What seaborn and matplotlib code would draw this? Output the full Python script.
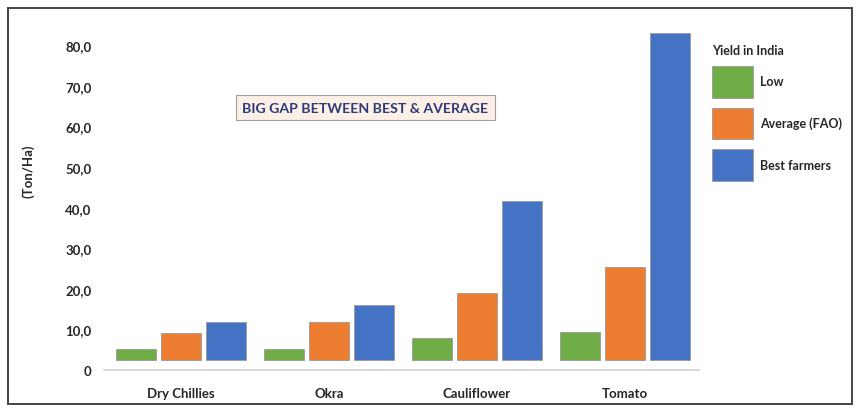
import matplotlib
matplotlib.use("Agg")
import matplotlib.pyplot as plt
import matplotlib.patches as mpatches
import seaborn as sns
import pandas as pd

# ---- data ----
categories = ["Dry Chillies", "Okra", "Cauliflower", "Tomato"]
series = ["Low", "Average (FAO)", "Best farmers"]
low = [5.2, 5.2, 7.9, 9.4]
average = [9.1, 11.8, 19.0, 25.4]
best = [11.8, 16.0, 41.6, 83.0]
y_ticks = [0, 10, 20, 30, 40, 50, 60, 70, 80]
y_tick_labels = ["0", "10,0", "20,0", "30,0", "40,0", "50,0", "60,0", "70,0", "80,0"]
title_text = "BIG GAP BETWEEN BEST & AVERAGE"
legend_title = "Yield in India"
y_label = "(Ton/Ha)"

colors = ["#70AD47", "#ED7D31", "#4472C4"]

rows = []
for i, c in enumerate(categories):
    for s, vals in zip(series, [low, average, best]):
        rows.append({"crop": c, "series": s, "value": vals[i]})
df = pd.DataFrame(rows)

sns.set_style("white")
plt.rcParams["font.family"] = ["Lato", "DejaVu Sans"]

fig = plt.figure(figsize=(8.59, 4.10), dpi=100)
ax = fig.add_axes([104 / 859, 39 / 410, (699 - 104) / 859, (371 - 30) / 410])

sns.barplot(data=df, x="crop", y="value", hue="series", hue_order=series,
            order=categories, palette=colors, width=0.92, legend=False,
            edgecolor="#9a9a9a", linewidth=0.6, saturation=1, ax=ax)

# bars float slightly above the baseline, like the reference
base = 2.5
shrink = 0.88
for p in ax.patches:
    top = p.get_y() + p.get_height()
    w = p.get_width()
    x = p.get_x()
    p.set_y(base)
    p.set_height(top - base)
    p.set_width(w * shrink)
    p.set_x(x + w * (1 - shrink) / 2)

ax.set_xlim(-0.52, 3.5)
ax.set_ylim(0, (371 - 30) / 4.06)
ax.set_yticks(y_ticks)
ax.set_yticklabels(y_tick_labels, fontsize=9.5, fontweight="bold", color="#262626")
ax.set_xticks(range(len(categories)))
ax.set_xticklabels(categories, fontsize=9.5, fontweight="bold", color="#262626")
ax.tick_params(axis="both", length=0)
ax.tick_params(axis="y", pad=9)
ax.tick_params(axis="x", pad=12)
ax.set_xlabel("")
ax.set_ylabel(y_label, fontsize=9.5, fontweight="bold", color="#262626")
ax.yaxis.set_label_coords(-0.117, 0.585)

for s in ["top", "right", "left"]:
    ax.spines[s].set_visible(False)
ax.spines["bottom"].set_color("#d4d4d4")
ax.spines["bottom"].set_linewidth(1.3)

# annotation box
ax.text(1.245, 64.6, title_text, ha="center", va="center", fontsize=10.2,
        fontweight="bold", color="#2E3A78",
        bbox=dict(boxstyle="square,pad=0.45", facecolor="#FBEFE6",
                  edgecolor="#a0a0a0", linewidth=0.8))

# legend
handles = [mpatches.Patch(facecolor=c, edgecolor="#9a9a9a", linewidth=0.6) for c in colors]
leg = fig.legend(handles, series, title=legend_title, loc="upper left",
                 bbox_to_anchor=(701 / 859, 1 - 34 / 410), frameon=False,
                 prop={"size": 9, "weight": "bold"}, title_fontsize=9,
                 handlelength=3.25, handleheight=3.5, labelspacing=0.8,
                 handletextpad=0.55, alignment="left")
leg.get_title().set_fontweight("bold")
for t in leg.get_texts():
    t.set_color("#262626")

# outer frame
fig.patches.append(mpatches.Rectangle((8 / 859, 5 / 410), (852 - 8) / 859, (401 - 5) / 410,
                                      transform=fig.transFigure, fill=False,
                                      edgecolor="#444444", linewidth=1.4))

fig.savefig("out.png", dpi=100)
